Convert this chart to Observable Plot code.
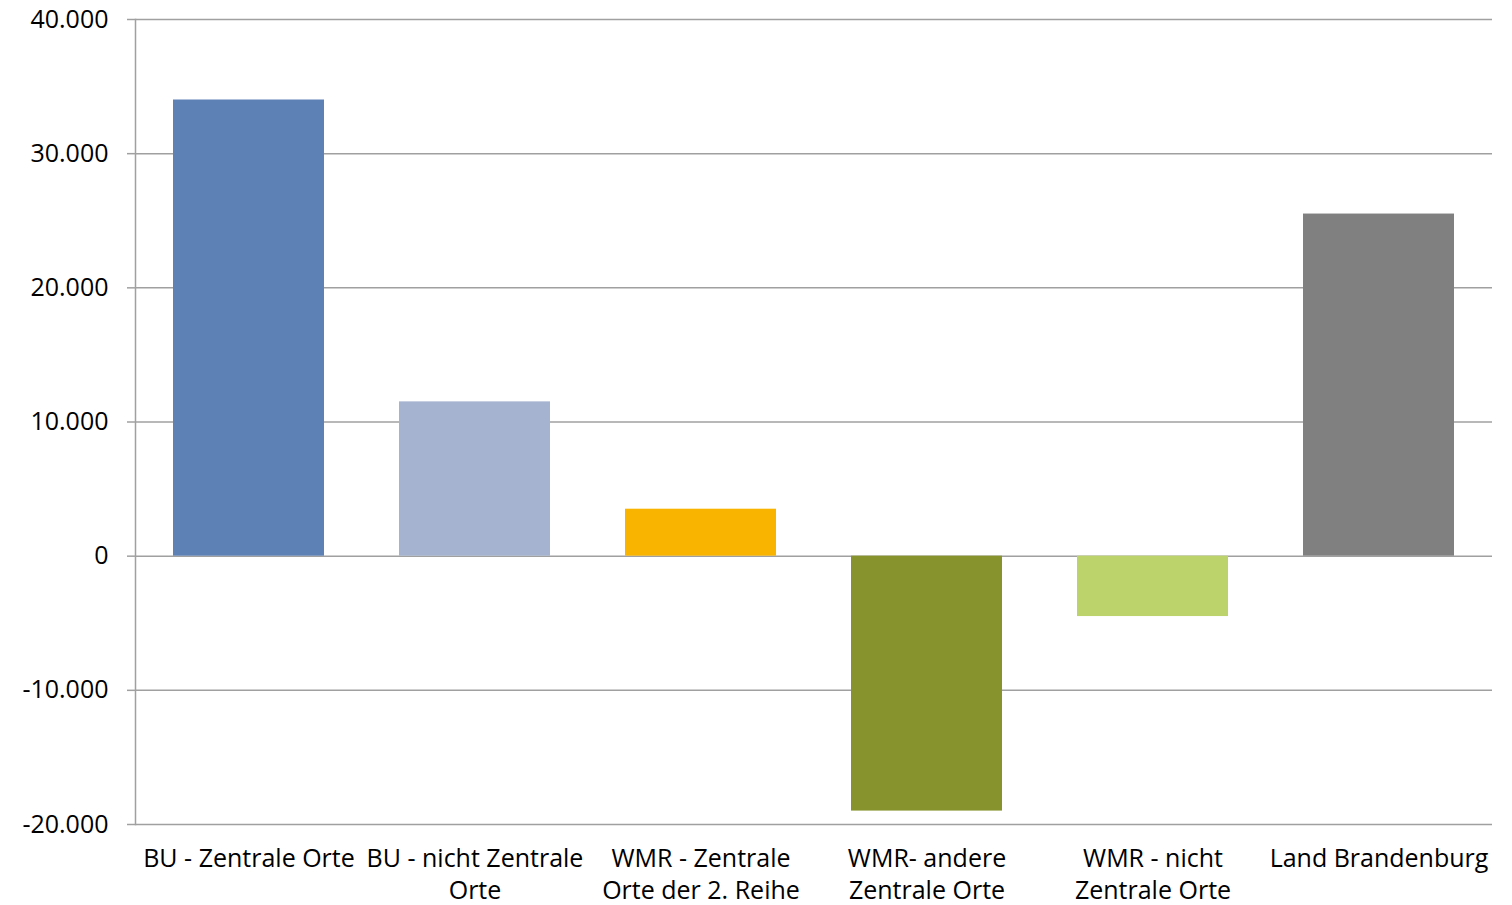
<!DOCTYPE html>
<html>
<head>
<meta charset="utf-8">
<script src="https://cdn.jsdelivr.net/npm/d3@7"></script>
<script src="https://cdn.jsdelivr.net/npm/@observablehq/plot@0.6"></script>
<style>
  html, body { margin: 0; padding: 0; background: #fff; }
  #chart svg { display: block; }
</style>
</head>
<body>
<div id="chart"></div>
<script>
const categories = [
  "BU - Zentrale Orte",
  "BU - nicht Zentrale Orte",
  "WMR - Zentrale Orte der 2. Reihe",
  "WMR- andere Zentrale Orte",
  "WMR - nicht Zentrale Orte",
  "Land Brandenburg"
];
const tickLabels = [
  "BU - Zentrale Orte",
  "BU - nicht Zentrale\nOrte",
  "WMR - Zentrale\nOrte der 2. Reihe",
  "WMR- andere\nZentrale Orte",
  "WMR - nicht\nZentrale Orte",
  "Land Brandenburg"
];
const values = [34000, 11500, 3500, -19000, -4500, 25500];
const colors = ["#5d80b5", "#a5b3d0", "#f9b400", "#87932c", "#bbd36a", "#808080"];
const yTicks = [-20000, -10000, 0, 10000, 20000, 30000, 40000];

const data = categories.map((c, i) => ({category: c, value: values[i], color: colors[i]}));
const labelOf = new Map(categories.map((c, i) => [c, tickLabels[i]]));

const de = d3.formatLocale({decimal: ",", thousands: ".", grouping: [3], currency: ["", " €"], minus: "-"});
const fmt = de.format(",d");

const chart = Plot.plot({
  width: 1512,
  height: 905,
  marginLeft: 135,
  marginRight: 20,
  marginTop: 19,
  marginBottom: 81,
  style: {fontFamily: "'Open Sans', sans-serif", fontSize: "25px", color: "#000", background: "#fff"},
  x: {domain: categories, paddingInner: 0.33, paddingOuter: 0.165},
  y: {domain: [-20000, 40000]},
  marks: [
    Plot.ruleY(yTicks, {stroke: "#a0a0a0", strokeWidth: 1.5}),
    Plot.barY(data, {x: "category", y: "value", fill: "color"}),
    Plot.frame({anchor: "left", stroke: "#a0a0a0", strokeWidth: 1.5}),
    Plot.axisY({ticks: yTicks, tickFormat: fmt, tickSize: 8, tickPadding: 19, stroke: "#a0a0a0", strokeWidth: 1.5, fill: "#000", fontSize: 25, label: null}),
    Plot.axisX({tickSize: 0, tickPadding: 19, tickFormat: d => labelOf.get(d), fill: "#000", fontSize: 25, lineHeight: 1.3, label: null})
  ]
});
document.getElementById("chart").appendChild(chart);
</script>
</body>
</html>
